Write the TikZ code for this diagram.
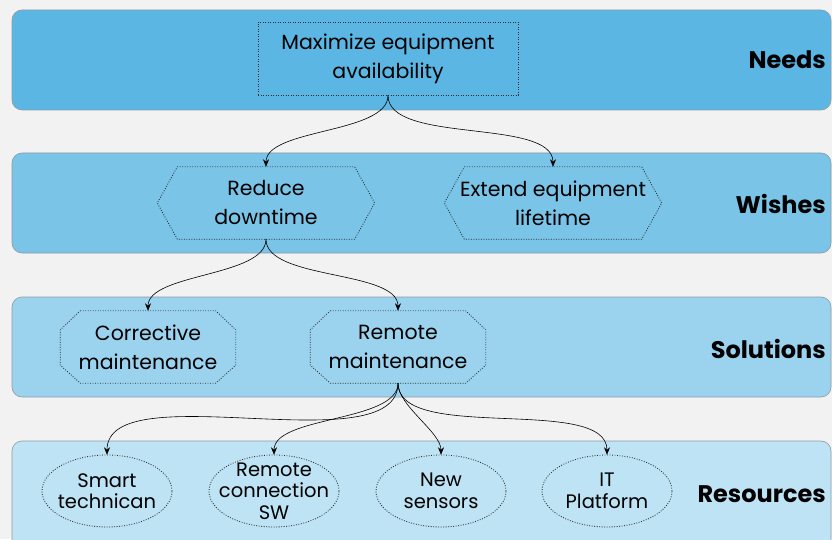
\documentclass[tikz,border=0pt]{standalone}
\usepackage{fontspec}
\setmainfont{Poppins}
\usetikzlibrary{arrows.meta}
\definecolor{bggray}{HTML}{F2F2F2}
\definecolor{needc}{HTML}{5BB6E4}
\definecolor{wishc}{HTML}{7AC4E8}
\definecolor{solc}{HTML}{9BD3EF}
\definecolor{resc}{HTML}{BDE3F4}
\definecolor{bandline}{HTML}{8C9BA6}
\definecolor{dotline}{HTML}{2A2A2A}
\begin{document}
\begin{tikzpicture}
  [x=1pt,y=1pt,
   band/.style={draw=bandline,line width=.6pt,rounded corners=10pt},
   dots/.style={draw=dotline,line width=.8pt,dash pattern=on .9pt off 1.6pt},
   every node/.style={font=\fontsize{20.5}{29}\selectfont,align=center,inner sep=0pt},
   needbox/.style={dots,minimum width=260pt,minimum height=73pt},
   wishbox/.style={minimum width=217pt,minimum height=72pt,
     append after command={\pgfextra{\draw[dots]
       ([xshift=20pt]\tikzlastnode.north west) -- ([xshift=-20pt]\tikzlastnode.north east)
       -- (\tikzlastnode.east) -- ([xshift=-20pt]\tikzlastnode.south east)
       -- ([xshift=20pt]\tikzlastnode.south west) -- (\tikzlastnode.west) -- cycle;}}},
   solbox/.style={minimum width=175pt,minimum height=72pt,
     append after command={\pgfextra{\draw[dots]
       ([xshift=20pt]\tikzlastnode.north west) -- ([xshift=-20pt]\tikzlastnode.north east)
       -- ([yshift=-19pt]\tikzlastnode.north east) -- ([yshift=18pt]\tikzlastnode.south east)
       -- ([xshift=-20pt]\tikzlastnode.south east) -- ([xshift=20pt]\tikzlastnode.south west)
       -- ([yshift=18pt]\tikzlastnode.south west) -- ([yshift=-19pt]\tikzlastnode.north west) -- cycle;}}},
   resbox/.style={minimum width=130pt,minimum height=72pt,font=\fontsize{19.5}{21.5}\selectfont,
     append after command={\pgfextra{\draw[dots]
       (\tikzlastnode.center) ellipse [x radius=65pt,y radius=36pt];}}},
   level/.style={anchor=east,font=\bfseries\fontsize{24}{28}\selectfont},
   link/.style={line width=.6pt,-{Stealth[length=7.5pt,width=6pt]}}]
  \fill[bggray] (0,0) rectangle (832,539);
  \clip (0,0) rectangle (832,539);

  \draw[band,fill=needc] (12,429) rectangle (831,529);
  \draw[band,fill=wishc] (12,286) rectangle (831,386);
  \draw[band,fill=solc] (12,142) rectangle (831,242);
  \draw[band,fill=resc] (12,-10) rectangle (831,98);

  \node[level] (l1) at (826,479) {Needs};
  \node[level] (l2) at (826,335) {Wishes};
  \node[level] (l3) at (826,190) {Solutions};
  \node[level] (l4) at (826,45) {Resources};

  \node[needbox] (n1) at (388,480.5) {Maximize equipment\\availability};
  \node[wishbox] (n2) at (266,336) {Reduce\\downtime};
  \node[wishbox] (n3) at (553,336) {Extend equipment\\lifetime};
  \node[solbox] (n4) at (148,192) {Corrective\\maintenance};
  \node[solbox] (n5) at (398,192) {Remote\\maintenance};
  \node[resbox] (n6) at (107,48) {Smart\\technican};
  \node[resbox] (n7) at (274,48) {Remote\\connection\\SW};
  \node[resbox] (n8) at (441,48) {New\\sensors};
  \node[resbox] (n9) at (607,48) {IT\\Platform};

  \foreach \from/\to in {n1/n2,n1/n3,n2/n4,n2/n5,n5/n6,n5/n7,n5/n8,n5/n9}
    \draw[link] (\from.south) to[out=-90,in=90,looseness=.7] (\to.north);
\end{tikzpicture}
\end{document}
